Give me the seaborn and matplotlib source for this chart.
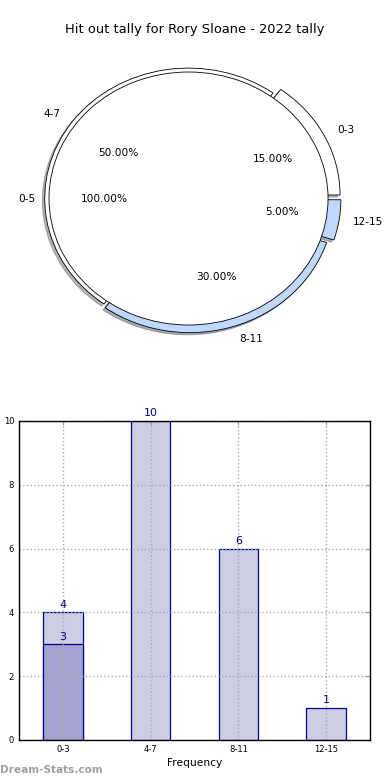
import numpy as np
import pandas as pd
import matplotlib
matplotlib.use("Agg")
import matplotlib.pyplot as plt
import seaborn as sns

# data
categories = ['0-3', '4-7', '8-11', '12-15']
pie_counts = [3, 10, 6, 1]
pie_colors = ['white', 'white', '#bfd8fb', '#bfd8fb']
pie_explode = [0.06, 0.0, 0.03, 0.06]
inner_label = ['0-5']
inner_counts = [20]

bar_counts = [4, 10, 6, 1]
overlay_cats = ['0-3']
overlay_counts = [3]

title = "Hit out tally for Rory Sloane - 2022 tally"

sns.set_style('white')
plt.rcParams['font.family'] = ['DejaVu Sans']
plt.rcParams['text.color'] = 'black'
plt.rcParams['axes.labelcolor'] = 'black'
plt.rcParams['xtick.labelcolor'] = 'black'
plt.rcParams['ytick.labelcolor'] = 'black'

fig = plt.figure(figsize=(3.9, 7.8), dpi=100)

# --- nested pie ---
ax_pie = fig.add_axes([0.0224, 0.5365, 0.922, 0.418])
ax_pie.pie(pie_counts, labels=categories, colors=pie_colors, explode=pie_explode,
           autopct='%.2f%%', shadow={'ox': -0.012, 'oy': -0.012, 'shade': 0.6},
           radius=1.0,
           wedgeprops=dict(edgecolor='black', linewidth=0.6),
           textprops=dict(fontsize=7.6))
ax_pie.pie(inner_counts, labels=inner_label, colors=['white'],
           autopct='%.2f%%', radius=0.97,
           wedgeprops=dict(edgecolor='black', linewidth=0.6),
           textprops=dict(fontsize=7.6))
ax_pie.set_aspect('auto')
ax_pie.set_xlim(-1.25, 1.25)
ax_pie.set_ylim(-1.25, 1.25)

fig.text(0.5, 1 - 30 / 780, title, ha='center', va='center', fontsize=9.4)

# --- bar chart ---
ax = fig.add_axes([0.0487, 0.0513, 0.9, 0.409])
sns.barplot(x=categories, y=bar_counts, order=categories, color='#cdcde5',
            saturation=1, width=0.45, edgecolor='#00008b', linewidth=0.9, ax=ax)
sns.barplot(x=overlay_cats, y=overlay_counts, order=categories, color='#a3a3d0',
            saturation=1, width=0.45, edgecolor='#00008b', linewidth=0.9, ax=ax)

for i, v in enumerate(bar_counts):
    ax.annotate(str(v), (i, v), xytext=(0, 2), textcoords='offset points',
                ha='center', va='bottom', color='#00008b', fontsize=8)
for c, v in zip(overlay_cats, overlay_counts):
    ax.annotate(str(v), (categories.index(c), v), xytext=(0, 2), textcoords='offset points',
                ha='center', va='bottom', color='#00008b', fontsize=8)

ax.set_xlim(-0.5, 3.5)
ax.set_ylim(0, 10)
ax.set_yticks(range(0, 11, 2))
ax.grid(True, linestyle=':', color='#aaaaaa', linewidth=1)
ax.set_axisbelow(False)
ax.tick_params(axis='both', labelsize=6, direction='in', length=3, color='#999999',
               right=True, top=True)
for s in ax.spines.values():
    s.set_color('black')
    s.set_linewidth(1)
    s.set_zorder(5)
ax.set_xlabel('Frequency', fontsize=7.7, labelpad=3)
ax.set_ylabel('Hit out tally', fontsize=7.5)
ax.yaxis.set_label_coords(-0.057, 0.5)

fig.text(0.0, 1 - 770 / 780, 'Dream-Stats.com', ha='left', va='center',
         fontsize=7.6, fontweight='bold', color='#a0a0a0')

fig.savefig('out.png', dpi=100)
